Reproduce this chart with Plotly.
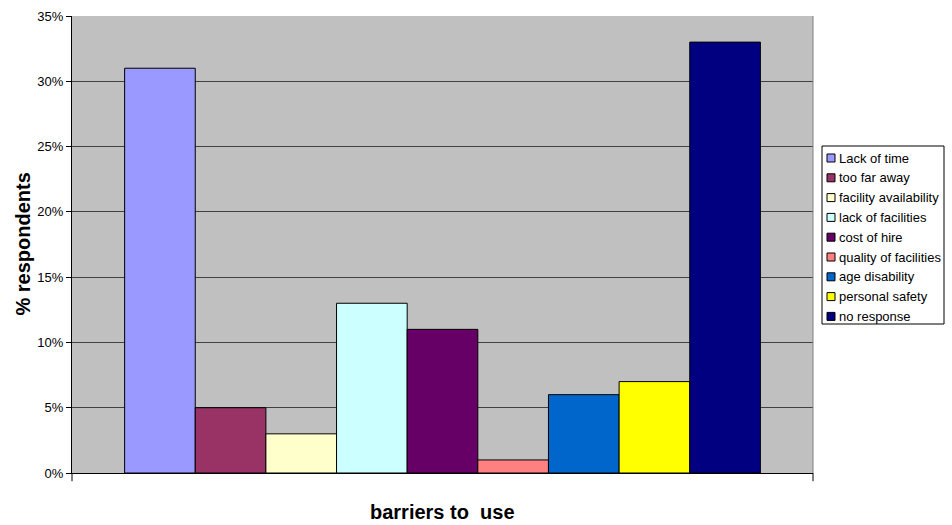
import plotly.graph_objects as go

# Survey: barriers to using facilities
barriers = [
    "Lack of time", "too far away", "facility availability", "lack of facilities",
    "cost of hire", "quality of facilities", "age disability", "personal safety",
    "no response",
]
percent = [31, 5, 3, 13, 11, 1, 6, 7, 33]
colors = [
    "#9999FF", "#993366", "#FFFFCC", "#CCFFFF", "#660066",
    "#FF8080", "#0066CC", "#FFFF00", "#000080",
]
y_ticks = [0, 5, 10, 15, 20, 25, 30, 35]
y_tick_labels = [f"{v}%" for v in y_ticks]

FONT = "Liberation Sans, Arial, sans-serif"

W, H = 952, 525
ML, MR, MT, MB = 72, 139, 16, 52
PW, PH = W - ML - MR, H - MT - MB


def paper_x(px):
    return (px - ML) / PW


def paper_y(py):
    return (H - MB - py) / PH


fig = go.Figure()
for name, val, col in zip(barriers, percent, colors):
    fig.add_trace(go.Bar(
        x=[""], y=[val], name=name,
        marker=dict(color=col, line=dict(color="#000000", width=1)),
        hoverinfo="name+y",
    ))

fig.update_layout(
    width=W, height=H,
    margin=dict(l=ML, r=MR, t=MT, b=MB, autoexpand=False),
    paper_bgcolor="#FFFFFF",
    plot_bgcolor="#C0C0C0",
    barmode="group",
    bargap=0.142,
    bargroupgap=0,
    font=dict(family=FONT, color="#000000", size=12),
    showlegend=False,
)

fig.update_yaxes(
    range=[0, 35],
    tickvals=y_ticks, ticktext=y_tick_labels,
    showgrid=True, gridcolor="#404040", gridwidth=1,
    zeroline=False,
    showline=True, linecolor="#000000", linewidth=1,
    ticks="outside", ticklen=5, tickcolor="#000000",
    tickfont=dict(family=FONT, size=13, color="#000000"),
    automargin=False,
)

fig.update_xaxes(
    showticklabels=False,
    showline=True, linecolor="#000000", linewidth=1,
    ticks="",
    automargin=False,
)

# Axis titles
fig.add_annotation(
    text="<b>% respondents</b>", textangle=-90, showarrow=False,
    xref="paper", yref="paper", x=paper_x(22), y=0.5,
    xanchor="center", yanchor="middle",
    font=dict(family=FONT, size=20, color="#000000"),
)
fig.add_annotation(
    text="<b>barriers to  use</b>", showarrow=False,
    xref="paper", yref="paper", x=0.5, y=paper_y(512),
    xanchor="center", yanchor="middle",
    font=dict(family=FONT, size=20, color="#000000"),
)

# Plot-area frame on the right and short end ticks below the category axis
fig.add_shape(type="line", xref="paper", yref="paper", x0=1, x1=1, y0=0, y1=1,
              line=dict(color="#808080", width=1))
for xp in (0, 1):
    fig.add_shape(type="line", xref="paper", yref="paper", x0=xp, x1=xp, y0=0, y1=-0.018,
                  line=dict(color="#000000", width=1))

# Legend box with a swatch and label for every series
fig.add_shape(type="rect", xref="paper", yref="paper",
              x0=paper_x(822), x1=paper_x(944), y0=paper_y(146), y1=paper_y(324),
              fillcolor="#FFFFFF", line=dict(color="#000000", width=1), layer="above")
row_top, row_step, sw = 158, 19.8, 8
for i, (name, col) in enumerate(zip(barriers, colors)):
    cy = row_top + i * row_step
    fig.add_shape(type="rect", xref="paper", yref="paper",
                  x0=paper_x(827), x1=paper_x(827 + sw),
                  y0=paper_y(cy - sw / 2), y1=paper_y(cy + sw / 2),
                  fillcolor=col, line=dict(color="#000000", width=1), layer="above")
    fig.add_annotation(
        text=name, showarrow=False, xref="paper", yref="paper",
        x=paper_x(837), y=paper_y(cy), xanchor="left", yanchor="middle",
        font=dict(family=FONT, size=13, color="#000000"),
    )

fig.write_html("out.html")
